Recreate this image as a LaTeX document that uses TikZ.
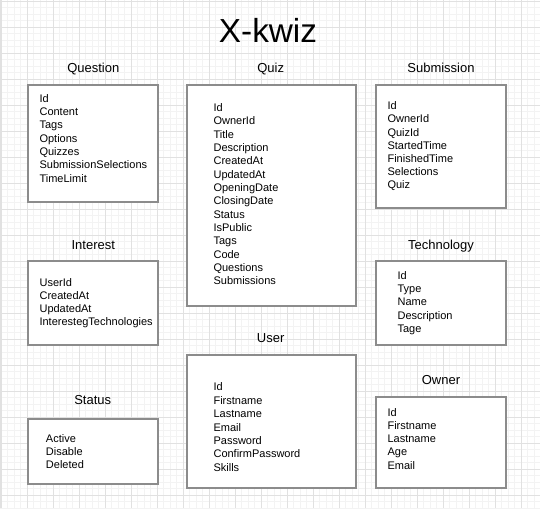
\documentclass[tikz,border=0pt]{standalone}
\usepackage{fontspec}
\setmainfont{Liberation Sans}
\definecolor{boxline}{RGB}{140,140,140}
\definecolor{gridminor}{RGB}{243,243,243}
\definecolor{gridmajor}{RGB}{225,225,225}
\tikzset{
  entity/.style={draw=boxline, line width=1.5pt, fill=white},
  entitytitle/.style={font=\fontsize{9.75pt}{11pt}\selectfont, inner sep=0pt, text height=7pt, text depth=0pt, anchor=center},
  field/.style={font=\fontsize{8.25pt}{10pt}\selectfont, inner sep=0pt, text height=5.9pt, text depth=0pt, anchor=west},
  maintitle/.style={font=\fontsize{25pt}{28pt}\selectfont, inner sep=0pt, text height=18pt, text depth=0pt, anchor=center},
  minorgrid/.style={gridminor, line width=0.75pt},
  majorgrid/.style={gridmajor, line width=0.75pt}
}
\begin{document}
\begin{tikzpicture}[x=0.75pt, y=-0.75pt]
\useasboundingbox (0,0) rectangle (540,508);
\fill[white] (0,0) rectangle (540,508);
% grid
\draw[minorgrid] \foreach \k in {0,...,83} {(1.3+6.5*\k,0) -- (1.3+6.5*\k,508)};
\draw[minorgrid] \foreach \k in {0,...,78} {(0,1.3+6.5*\k) -- (540,1.3+6.5*\k)};
\draw[majorgrid] \foreach \k in {0,...,20} {(1.3+26*\k,0) -- (1.3+26*\k,508)};
\draw[majorgrid] \foreach \k in {0,...,19} {(0,1.3+26*\k) -- (540,1.3+26*\k)};
\draw[majorgrid] (0.4,0) -- (0.4,508);

% title
\node[maintitle] (title) at (268,30.5) {X-kwiz};

% boxes
\draw[entity] (28.3,85) rectangle (158.3,201.7) coordinate (questionbox);
\draw[entity] (186.7,85) rectangle (356,305.7) coordinate (quizbox);
\draw[entity] (376,85) rectangle (506,208.3) coordinate (submissionbox);
\draw[entity] (28.3,260.7) rectangle (158.3,345) coordinate (interestbox);
\draw[entity] (376,260.7) rectangle (506,345) coordinate (technologybox);
\draw[entity] (28.3,419.3) rectangle (158.3,484.3) coordinate (statusbox);
\draw[entity] (186.7,355) rectangle (356,487.7) coordinate (userbox);
\draw[entity] (376,396.7) rectangle (506,487.7) coordinate (ownerbox);

% box titles
\node[entitytitle] (tquestion) at (93.3,68.3) {Question};
\node[entitytitle] (tquiz) at (270.7,68.3) {Quiz};
\node[entitytitle] (tsubmission) at (441,68.3) {Submission};
\node[entitytitle] (tinterest) at (93.3,244.5) {Interest};
\node[entitytitle] (ttechnology) at (441,244.8) {Technology};
\node[entitytitle] (tstatus) at (92.7,400) {Status};
\node[entitytitle] (tuser) at (270.7,338.3) {User};
\node[entitytitle] (towner) at (441,380) {Owner};

% fields
\foreach \t [count=\i] in {Id,Content,Tags,Options,Quizzes,SubmissionSelections,TimeLimit}
  \node[field] (question\i) at (39.3,98.3+13.3*\i-13.3) {\t};
\foreach \t [count=\i] in {Id,OwnerId,Title,Description,CreatedAt,UpdatedAt,OpeningDate,ClosingDate,Status,IsPublic,Tags,Code,Questions,Submissions}
  \node[field] (quiz\i) at (213.3,107.7+13.33*\i-13.33) {\t};
\foreach \t [count=\i] in {Id,OwnerId,QuizId,StartedTime,FinishedTime,Selections,Quiz}
  \node[field] (submission\i) at (387.3,106+13.05*\i-13.05) {\t};
\foreach \t [count=\i] in {UserId,CreatedAt,UpdatedAt,InterestegTechnologies}
  \node[field] (interest\i) at (39.3,282.3+13.1*\i-13.1) {\t};
\foreach \t [count=\i] in {Id,Type,Name,Description,Tage}
  \node[field] (technology\i) at (397.3,275.7+13.15*\i-13.15) {\t};
\foreach \t [count=\i] in {Active,Disable,Deleted}
  \node[field] (status\i) at (45.7,438.3+13.35*\i-13.35) {\t};
\foreach \t [count=\i] in {Id,Firstname,Lastname,Email,Password,ConfirmPassword,Skills}
  \node[field] (user\i) at (213.3,387+13.4*\i-13.4) {\t};
\foreach \t [count=\i] in {Id,Firstname,Lastname,Age,Email}
  \node[field] (owner\i) at (387.3,412.3+13.2*\i-13.2) {\t};
\end{tikzpicture}
\end{document}
